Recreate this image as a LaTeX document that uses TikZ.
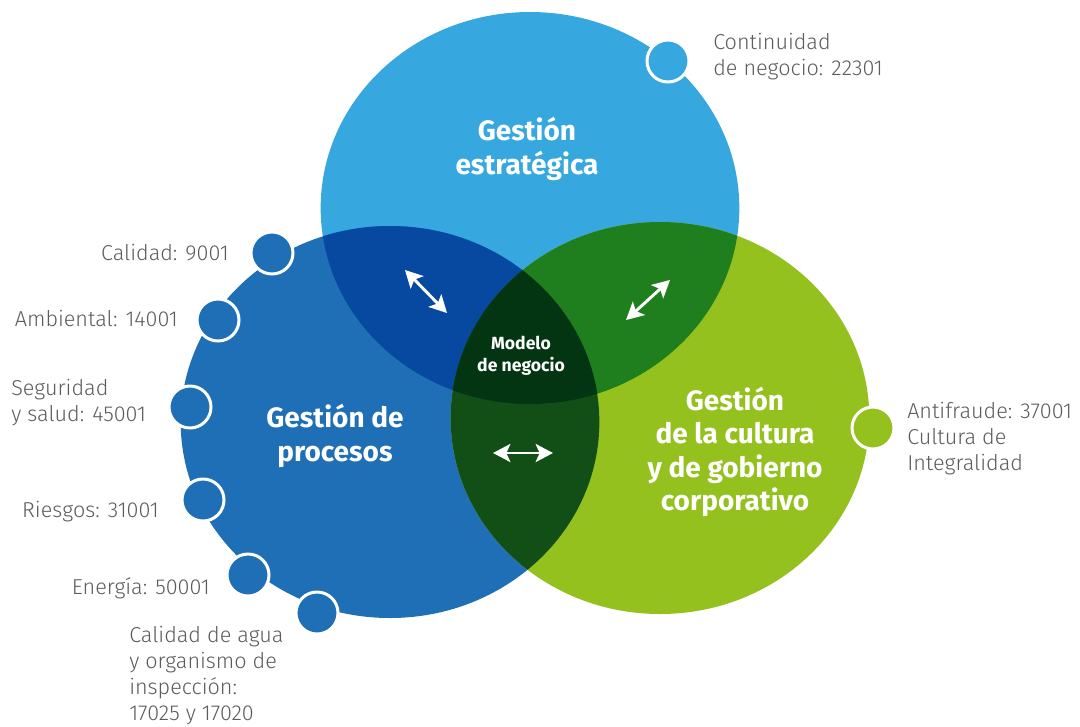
\documentclass[tikz,border=0pt]{standalone}
\usepackage{fontspec}
\setmainfont{Fira Sans}
\newfontfamily\lightfont{Fira Sans Light}
\usetikzlibrary{arrows.meta}
\definecolor{cTop}{HTML}{37A8DF}
\definecolor{cLeft}{HTML}{1F6FB7}
\definecolor{cRight}{HTML}{95C11F}
\definecolor{cTL}{HTML}{0749A0}
\definecolor{cTR}{HTML}{1F7E1E}
\definecolor{cLR}{HTML}{114F16}
\definecolor{cAll}{HTML}{043512}
\definecolor{txt}{HTML}{5C5C5C}
\tikzset{
  dot/.style={circle, minimum size=31.5pt, inner sep=0pt, draw=white, line width=2.25pt},
  lbl/.style={text=txt, font=\lightfont\fontsize{16.2}{19.5}\selectfont, inner sep=0pt, align=left},
  head/.style={text=white, font=\bfseries\fontsize{21}{25}\selectfont, inner sep=0pt, align=center},
  core/.style={text=white, font=\bfseries\fontsize{13.2}{16.5}\selectfont, inner sep=0pt, align=center},
  dblarrow/.style={white, line width=2.2pt, {Stealth[length=13pt,width=13.5pt,inset=3pt]}-{Stealth[length=13pt,width=13.5pt,inset=3pt]}}
}
\begin{document}
\begin{tikzpicture}[x=0.75pt,y=-0.75pt]
\useasboundingbox (0,0) rectangle (1080,726);
% big ellipses
\coordinate (ctop) at (530,208);
\coordinate (cleft) at (390,422);
\coordinate (cright) at (660,418);
\fill[cTop] (ctop) ellipse [x radius=157pt, y radius=147pt];
\fill[cLeft] (cleft) ellipse [x radius=157pt, y radius=147pt];
\fill[cRight] (cright) ellipse [x radius=157pt, y radius=147pt];
\begin{scope}
  \clip (ctop) ellipse [x radius=157pt, y radius=147pt];
  \fill[cTL] (cleft) ellipse [x radius=157pt, y radius=147pt];
  \fill[cTR] (cright) ellipse [x radius=157pt, y radius=147pt];
\end{scope}
\begin{scope}
  \clip (cleft) ellipse [x radius=157pt, y radius=147pt];
  \fill[cLR] (cright) ellipse [x radius=157pt, y radius=147pt];
\end{scope}
\begin{scope}
  \clip (ctop) ellipse [x radius=157pt, y radius=147pt];
  \clip (cleft) ellipse [x radius=157pt, y radius=147pt];
  \fill[cAll] (cright) ellipse [x radius=157pt, y radius=147pt];
\end{scope}
% small circles
\node[dot, fill=cTop] (dcont) at (668,61) {};
\node[dot, fill=cLeft] (dcal) at (272,253) {};
\node[dot, fill=cLeft] (damb) at (218,320) {};
\node[dot, fill=cLeft] (dseg) at (190,407) {};
\node[dot, fill=cLeft] (drie) at (203,500) {};
\node[dot, fill=cLeft] (dene) at (248,575) {};
\node[dot, fill=cLeft] (dagua) at (317,613) {};
\node[dot, fill=cRight] (danti) at (873,428) {};
% headings
\node[head] (htop) at (527,149) {Gesti\'on\\estrat\'egica};
\node[head] (hleft) at (335,436) {Gesti\'on de\\procesos};
\node[head] (hright) at (735,452) {Gesti\'on\\de la cultura\\y de gobierno\\corporativo};
\node[core] (hcore) at (521,356) {Modelo\\de negocio};
% arrows
\coordinate (a1s) at (405,270); \coordinate (a1e) at (447,313);
\coordinate (a2s) at (626,320); \coordinate (a2e) at (670,280);
\coordinate (a3s) at (493,453); \coordinate (a3e) at (553,453);
\draw[dblarrow] (a1s) -- (a1e);
\draw[dblarrow] (a2s) -- (a2e);
\draw[dblarrow] (a3s) -- (a3e);
% labels
\node[lbl, anchor=west] (lcont) at (713,57) {Continuidad\\de negocio: 22301};
\node[lbl, anchor=east] (lcal) at (229,253) {Calidad: 9001};
\node[lbl, anchor=east] (lamb) at (178,318) {Ambiental: 14001};
\node[lbl, anchor=west] (lseg) at (11,403) {Seguridad\\y salud: 45001};
\node[lbl, anchor=east] (lrie) at (159,512) {Riesgos: 31001};
\node[lbl, anchor=east] (lene) at (210,588) {Energ\'ia: 50001};
\node[lbl, anchor=west] (lagua) at (129,676) {Calidad de agua\\y organismo de\\inspecci\'on:\\17025 y 17020};
\node[lbl, anchor=west] (lanti) at (907,439) {Antifraude: 37001\\Cultura de\\Integralidad};
\end{tikzpicture}
\end{document}
